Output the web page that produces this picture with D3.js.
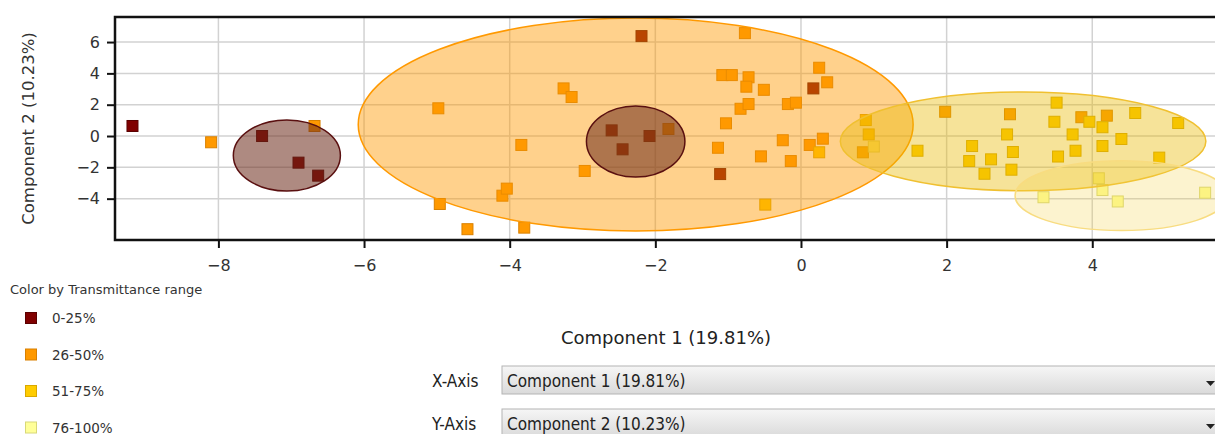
<!DOCTYPE html>
<html>
<head>
<meta charset="utf-8">
<script src="https://cdn.jsdelivr.net/npm/d3@7"></script>
<style>
  body { margin: 0; background: #fff; }
  svg { display: block; }
</style>
</head>
<body>
<div id="chart"></div>
<script>
// transmittance groups and their colours
const groups = ["0-25%", "26-50%", "51-75%", "76-100%"];
const fillColors = ["#800000", "#ff9900", "#ffcc00", "#ffff99"];
const edgeColors = ["#5a0000", "#d98000", "#d9a800", "#d8d878"];

// PCA scores, [component 1, component 2]
const pts0_25 = [
  [-9.18, 0.64], [-7.40, 0.00], [-6.90, -1.70], [-6.63, -2.53], [-2.19, 6.38],
  [-2.60, 0.36], [-2.45, -0.85], [-2.08, 0.00], [-1.11, -2.43], [0.17, 3.04]
];
const pts26_50 = [
  [-8.10, -0.40], [-6.68, 0.64], [-4.98, 1.77], [-4.96, -4.34], [-4.58, -5.95],
  [-4.10, -3.81], [-4.04, -3.36], [-3.84, -0.57], [-3.80, -5.85], [-3.26, 3.04],
  [-3.15, 2.49], [-2.97, -2.23], [-1.82, 0.45], [-0.77, 6.57], [-1.08, 3.89],
  [-0.95, 3.89], [-0.72, 3.75], [-0.75, 3.15], [-0.51, 2.95], [-0.83, 1.74],
  [-0.72, 2.04], [-0.18, 2.04], [-0.07, 2.13], [-1.03, 0.81], [-1.14, -0.75],
  [-0.55, -1.30], [-0.25, -0.27], [-0.14, -1.60], [0.25, 4.36], [0.36, 3.43],
  [0.12, -0.57], [0.30, -0.17], [0.85, -1.04], [1.98, 1.55], [2.87, 1.39],
  [3.85, 1.20], [4.20, 1.30]
];
const pts51_75 = [
  [-0.49, -4.38], [0.25, -1.04], [0.89, 1.02], [0.93, 0.10], [1.60, -0.94],
  [2.35, -0.64], [2.31, -1.60], [2.61, -1.49], [2.52, -2.41], [2.83, 0.10],
  [2.91, -1.02], [2.89, -2.15], [3.51, 2.13], [3.48, 0.91], [3.73, 0.10],
  [3.77, -0.94], [3.53, -1.31], [3.96, 0.91], [4.14, 0.56], [4.14, -0.64],
  [4.40, -0.19], [4.59, 1.47], [4.92, -1.38], [5.18, 0.83]
];
const pts76_100 = [
  [1.00, -0.67], [4.09, -2.70], [4.14, -3.45], [3.33, -3.91], [4.35, -4.18], [5.55, -3.62]
];
const pointSets = [pts0_25, pts26_50, pts51_75, pts76_100];

// confidence ellipses: [group index, centre x, centre y, radius x, radius y]
const ellipses = [
  [1, -2.27, 0.73, 3.81, 6.80],
  [2, 3.05, -0.34, 2.51, 3.15],
  [3, 4.40, -3.81, 1.46, 2.23],
  [0, -7.06, -1.24, 0.735, 2.27],
  [0, -2.27, -0.35, 0.676, 2.27]
];
const ellipseFill = ["#6b2a1a", "#ff9900", "#e8b800", "#f5d040"];
const ellipseOpacity = [0.55, 0.45, 0.4, 0.25];
const ellipseStroke = ["#5a1010", "#ff9900", "#f0c030", "#f8dc80"];

const xTicks = [-8, -6, -4, -2, 0, 2, 4];
const yTicks = [-4, -2, 0, 2, 4, 6];
const xTitle = "Component 1 (19.81%)";
const yTitle = "Component 2 (10.23%)";
const legendTitle = "Color by Transmittance range";

const W = 1215, H = 434;
const plot = { left: 115, top: 17, right: 1235, bottom: 240 };

const svg = d3.select("#chart").append("svg")
  .attr("width", W).attr("height", H)
  .style("font-family", "'DejaVu Sans', sans-serif");

const x = d3.scaleLinear().domain([-9.42, 5.96]).range([plot.left, plot.right]);
const y = d3.scaleLinear().domain([-6.64, 7.6]).range([plot.bottom, plot.top]);

svg.append("clipPath").attr("id", "clip")
  .append("rect")
  .attr("x", plot.left).attr("y", plot.top)
  .attr("width", plot.right - plot.left).attr("height", plot.bottom - plot.top);

// grid
const grid = svg.append("g").attr("stroke", "#d2d2d2").attr("stroke-width", 1.5);
grid.selectAll("line.v").data(xTicks).enter().append("line")
  .attr("x1", d => x(d)).attr("x2", d => x(d))
  .attr("y1", plot.top).attr("y2", plot.bottom);
grid.selectAll("line.h").data(yTicks).enter().append("line")
  .attr("x1", plot.left).attr("x2", plot.right)
  .attr("y1", d => y(d)).attr("y2", d => y(d));

const body = svg.append("g").attr("clip-path", "url(#clip)");

// points
pointSets.forEach((set, gi) => {
  body.append("g").selectAll("rect")
    .data(set)
    .enter()
    .append("rect")
    .attr("x", d => x(d[0]) - 5.5)
    .attr("y", d => y(d[1]) - 5.5)
    .attr("width", 11).attr("height", 11)
    .attr("fill", fillColors[gi])
    .attr("stroke", edgeColors[gi])
    .attr("stroke-width", 1);
});

// ellipses drawn over the points
body.append("g").selectAll("ellipse")
  .data(ellipses)
  .enter()
  .append("ellipse")
  .attr("cx", d => x(d[1]))
  .attr("cy", d => y(d[2]))
  .attr("rx", d => x(d[1] + d[3]) - x(d[1]))
  .attr("ry", d => y(d[2] - d[4]) - y(d[2]))
  .attr("fill", d => ellipseFill[d[0]])
  .attr("fill-opacity", d => ellipseOpacity[d[0]])
  .attr("stroke", d => ellipseStroke[d[0]])
  .attr("stroke-width", 1.5);

// frame (right side runs off the picture)
svg.append("path")
  .attr("d", `M${plot.right},${plot.top}H${plot.left}V${plot.bottom}H${plot.right}`)
  .attr("fill", "none").attr("stroke", "#111").attr("stroke-width", 2.5);

// axes
const xAxis = svg.append("g")
  .attr("transform", `translate(0,${plot.bottom})`)
  .call(d3.axisBottom(x).tickValues(xTicks).tickSize(8).tickPadding(12));
const yAxis = svg.append("g")
  .attr("transform", `translate(${plot.left},0)`)
  .call(d3.axisLeft(y).tickValues(yTicks).tickSize(8).tickPadding(7));
[xAxis, yAxis].forEach(a => {
  a.select(".domain").remove();
  a.selectAll(".tick line").attr("stroke", "#111").attr("stroke-width", 2);
  a.selectAll(".tick text").attr("fill", "#333").style("font-size", "16px")
    .style("font-family", "'DejaVu Sans', sans-serif");
});

svg.append("text")
  .attr("transform", `translate(34,${(plot.top + plot.bottom) / 2}) rotate(-90)`)
  .attr("text-anchor", "middle")
  .attr("fill", "#333")
  .style("font-size", "16.5px")
  .text(yTitle);

svg.append("text")
  .attr("x", 666).attr("y", 344)
  .attr("text-anchor", "middle")
  .attr("fill", "#222")
  .style("font-size", "18px")
  .text(xTitle);

// legend
svg.append("text")
  .attr("x", 10).attr("y", 294)
  .attr("fill", "#333")
  .style("font-size", "13px")
  .text(legendTitle);
const leg = svg.append("g").selectAll("g")
  .data(groups)
  .enter()
  .append("g")
  .attr("transform", (d, i) => `translate(0,${318 + i * 36.5})`);
leg.append("rect")
  .attr("x", 25.5).attr("y", -5.5)
  .attr("width", 11).attr("height", 11)
  .attr("fill", (d, i) => fillColors[i])
  .attr("stroke", (d, i) => edgeColors[i]);
leg.append("text")
  .attr("x", 52).attr("y", 5)
  .attr("fill", "#333")
  .style("font-size", "13.5px")
  .text(d => d);

// axis selectors
const defs = svg.append("defs");
const grad = defs.append("linearGradient").attr("id", "boxGrad")
  .attr("x1", 0).attr("y1", 0).attr("x2", 0).attr("y2", 1);
grad.append("stop").attr("offset", "0%").attr("stop-color", "#f6f6f6");
grad.append("stop").attr("offset", "100%").attr("stop-color", "#dadada");

const selectors = [["X-Axis", xTitle, 366], ["Y-Axis", yTitle, 409]];
selectors.forEach(([lab, val, top]) => {
  const g = svg.append("g").style("font-family", "'DejaVu Sans Condensed', 'DejaVu Sans', sans-serif")
    .style("font-stretch", "condensed");
  g.append("rect")
    .attr("x", 502).attr("y", top)
    .attr("width", 760).attr("height", 28)
    .attr("fill", "url(#boxGrad)")
    .attr("stroke", "#b4b4b4").attr("stroke-width", 1);
  g.append("text")
    .attr("x", 432).attr("y", top + 21)
    .attr("fill", "#222").style("font-size", "17px")
    .text(lab);
  g.append("text")
    .attr("x", 507).attr("y", top + 21)
    .attr("fill", "#222").style("font-size", "17px")
    .text(val);
  g.append("path")
    .attr("d", `M1206,${top + 15}h9l-4.5,5z`)
    .attr("fill", "#222");
});
</script>
</body>
</html>
